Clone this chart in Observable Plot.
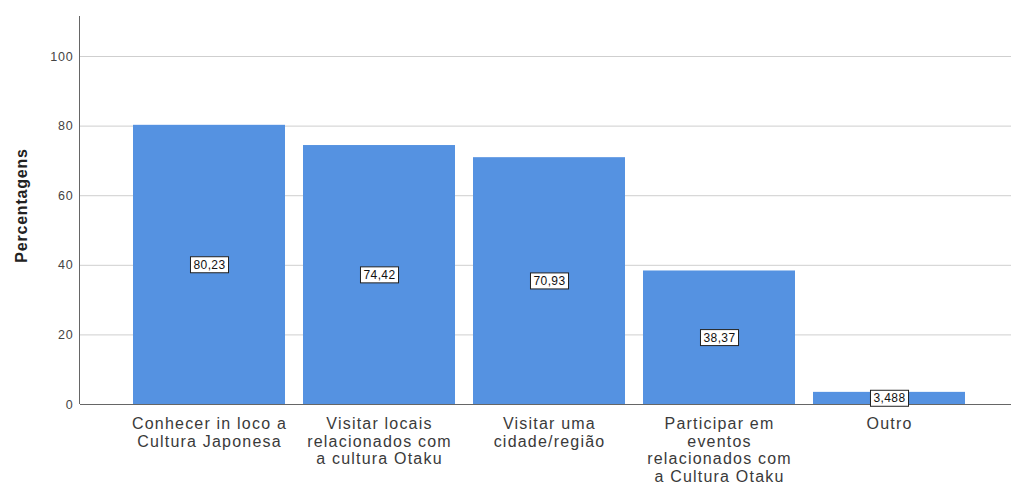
<!DOCTYPE html>
<html>
<head>
<meta charset="utf-8">
<script src="https://cdn.jsdelivr.net/npm/d3@7"></script>
<script src="https://cdn.jsdelivr.net/npm/@observablehq/plot@0.6"></script>
<style>
  html, body { margin: 0; padding: 0; background: #fff; }
  #chart { width: 1011px; height: 491px; }
  .xax text { letter-spacing: 1.2px; }
  .yax text { letter-spacing: 0.8px; }
  .vlabel text { letter-spacing: 0.4px; }
  .ylab text { letter-spacing: 0.8px; }
</style>
</head>
<body>
<div id="chart"></div>
<script>
const categories = [
  "Conhecer in loco a\nCultura Japonesa",
  "Visitar locais\nrelacionados com\na cultura Otaku",
  "Visitar uma\ncidade/região",
  "Participar em\neventos\nrelacionados com\na Cultura Otaku",
  "Outro"
];
const values = [80.23, 74.42, 70.93, 38.37, 3.488];
const valueLabels = ["80,23", "74,42", "70,93", "38,37", "3,488"];
const yTicks = [0, 20, 40, 60, 80, 100];

const data = categories.map((c, i) => ({cat: c, value: values[i], label: valueLabels[i]}));

const chart = Plot.plot({
  width: 1011,
  height: 491,
  marginLeft: 80,
  marginRight: 0,
  marginTop: 16,
  marginBottom: 87,
  style: {fontFamily: "Liberation Sans, Arial, sans-serif", background: "#fff"},
  x: {domain: categories, range: [124, 974], paddingInner: 0.106, paddingOuter: 0.053},
  y: {domain: [0, 111.5]},
  marks: [
    Plot.ruleY(yTicks.filter(d => d > 0), {stroke: "#cfcfcf", strokeWidth: 1}),
    Plot.barY(data, {x: "cat", y: "value", fill: "#5592e1"}),
    Plot.ruleY([0], {stroke: "#666", strokeWidth: 1}),
    Plot.axisY({ticks: yTicks, tickSize: 0, tickPadding: 7, fontSize: 12.5, color: "#444", label: null, className: "yax"}),
    Plot.text(["Percentagens"], {frameAnchor: "left", textAnchor: "middle", dx: -59, dy: -5, rotate: -90, fontWeight: "bold", fontSize: 16, fill: "#222", className: "ylab"}),
    Plot.axisX({tickSize: 0, tickPadding: 12, fontSize: 16, color: "#3a3a3a", label: null, lineHeight: 1.1, lineAnchor: "top", className: "xax"}),
    Plot.text(data, {x: "cat", y: d => d.value / 2, text: "label", fontSize: 12, fill: "#111", className: "vlabel"})
  ]
});

document.getElementById("chart").appendChild(chart);

const svg = d3.select(chart);
// Y axis line along the frame's left edge
svg.append("line")
  .attr("x1", 79.5).attr("x2", 79.5)
  .attr("y1", 16).attr("y2", 404)
  .attr("stroke", "#666").attr("stroke-width", 1);

// Boxes behind the value labels, sized from the rendered text
svg.selectAll(".vlabel text").each(function() {
  const b = this.getBBox();
  const r = d3.select(this.parentNode).insert("rect", () => this)
    .attr("x", b.x - 3).attr("y", b.y - 1)
    .attr("width", b.width + 6).attr("height", b.height + 2)
    .attr("fill", "#fff").attr("stroke", "#222").attr("stroke-width", 1);
  const t = this.getAttribute("transform");
  if (t) r.attr("transform", t);
});
</script>
</body>
</html>
